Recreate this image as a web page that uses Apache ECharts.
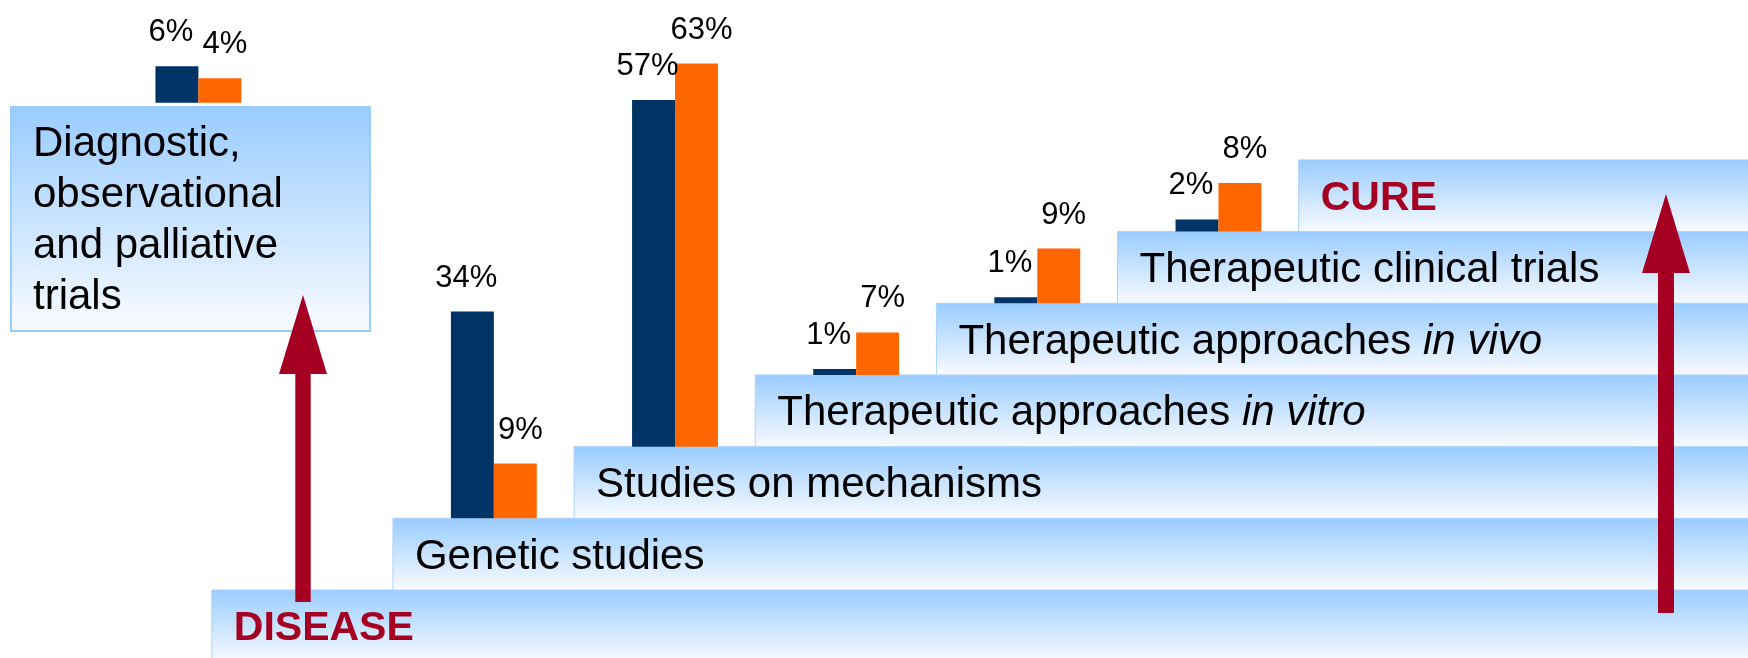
<!DOCTYPE html>
<html>
<head>
<meta charset="utf-8">
<style>
    html, body { margin: 0; padding: 0; background: #ffffff; }
    #stairs { width: 1748px; height: 658px; }
</style>
<script src="https://cdn.jsdelivr.net/npm/echarts@6/dist/echarts.min.js"></script>
</head>
<body>
<div id="stairs"></div>
<script>
// groups of bars (first one sits on the box at the left, the others on the steps)
var categories = ['Diagnostic, observational and palliative trials', 'Genetic studies', 'Studies on mechanisms',
    'Therapeutic approaches in vitro', 'Therapeutic approaches in vivo', 'Therapeutic clinical trials'];
var navyValues = [6, 34, 57, 1, 1, 2];
var orangeValues = [4, 9, 63, 7, 9, 8];

// steps of the staircase, bottom to top
var stepTitles = ['DISEASE', 'Genetic studies', 'Studies on mechanisms', 'Therapeutic approaches',
    'Therapeutic approaches', 'Therapeutic clinical trials', 'CURE'];
var stepItalic = ['', '', '', 'in vitro', 'in vivo', '', ''];
var boxLines = ['Diagnostic,', 'observational', 'and palliative', 'trials'];

// layout: x axis counts steps, y axis counts percent
var STEP = 11.79;
var DIAG_BASE = 80.15;
var DIAG_X = -0.074;
var GROUP_OFF = 0.557;
var BAR_W = 0.237;
var X_MIN = -1.1692, X_MAX = 8.4802;
var Y_MIN = -11.18, Y_MAX = 97.04;
var FONT = "'Liberation Sans', Arial, sans-serif";
var RED = '#a50021';

var chart = echarts.init(document.getElementById('stairs'));

function groupPos(i) {
    if (i === 0) return [DIAG_X, DIAG_BASE];
    return [i + GROUP_OFF, i * STEP];
}

function bandFill() {
    return new echarts.graphic.LinearGradient(0, 0, 0, 1, [
        { offset: 0, color: '#99ccff' },
        { offset: 1, color: '#f9fbff' }
    ]);
}

function renderStep(params, api) {
    var k = api.value(0);
    var top = api.coord([k, k * STEP]);
    var bottom = api.coord([k, (k - 1) * STEP]);
    var name = stepTitles[k];
    var italic = stepItalic[k];
    var edge = (k === 0 || k === stepTitles.length - 1);
    var text = '{n|' + name + '}' + (italic ? '{i| ' + italic + '}' : '');
    return {
        type: 'group',
        children: [{
            type: 'rect',
            shape: { x: top[0], y: top[1], width: api.getWidth() - top[0] + 2, height: bottom[1] - top[1] },
            style: { fill: bandFill(), stroke: '#a9d3fb', lineWidth: 1 }
        }, {
            type: 'text',
            x: top[0] + 22,
            y: (top[1] + bottom[1]) / 2 + 3,
            style: {
                text: text,
                verticalAlign: 'middle',
                align: 'left',
                rich: {
                    n: {
                        fontSize: edge ? 41 : 42,
                        fontWeight: edge ? 'bold' : 'normal',
                        fontFamily: FONT,
                        fill: edge ? RED : '#000000'
                    },
                    i: { fontSize: 42, fontStyle: 'italic', fontFamily: FONT, fill: '#000000' }
                }
            }
        }]
    };
}

function barRenderer(side, color, labelOffset) {
    return function (params, api) {
        var i = api.value(0);
        var v = api.value(1);
        var pos = groupPos(i);
        var x0 = side < 0 ? pos[0] - BAR_W : pos[0];
        var x1 = side < 0 ? pos[0] : pos[0] + BAR_W;
        var p0 = api.coord([x0, pos[1] + v]);
        var p1 = api.coord([x1, pos[1]]);
        return {
            type: 'rect',
            shape: { x: p0[0], y: p0[1], width: p1[0] - p0[0], height: p1[1] - p0[1] },
            style: { fill: color },
            textContent: {
                style: { text: v + '%', fontSize: 31, fontFamily: FONT, fill: '#000000' }
            },
            textConfig: { position: 'top', distance: 18, offset: labelOffset }
        };
    };
}

function arrow(cx, tip, headBase, bottom, headHalf, shaftHalf) {
    return {
        type: 'polygon',
        z: 100,
        shape: {
            points: [[cx, tip], [cx + headHalf, headBase], [cx + shaftHalf, headBase], [cx + shaftHalf, bottom],
                [cx - shaftHalf, bottom], [cx - shaftHalf, headBase], [cx - headHalf, headBase]]
        },
        style: { fill: RED }
    };
}

var option = {
    backgroundColor: '#ffffff',
    animation: false,
    grid: { left: 0, right: 0, top: 0, bottom: 0 },
    xAxis: { type: 'value', min: X_MIN, max: X_MAX, show: false },
    yAxis: { type: 'value', min: Y_MIN, max: Y_MAX, show: false },
    graphic: [{
        type: 'rect',
        z: 1,
        shape: { x: 11, y: 107, width: 359, height: 224 },
        style: { fill: bandFill(), stroke: '#99ccff', lineWidth: 2 }
    }, {
        type: 'text',
        z: 2,
        x: 33,
        y: 221,
        style: {
            text: boxLines.join('\n'),
            fontSize: 42,
            lineHeight: 51,
            fontFamily: FONT,
            fill: '#000000',
            verticalAlign: 'middle',
            align: 'left'
        }
    },
    arrow(303, 295, 374, 602, 24, 7.7),
    arrow(1666, 194, 273, 613, 24, 8)
    ],
    series: [{
        type: 'custom',
        name: 'steps',
        clip: false,
        silent: true,
        renderItem: renderStep,
        data: stepTitles.map(function (t, k) { return [k, 0]; })
    }, {
        type: 'custom',
        name: 'navy',
        clip: false,
        renderItem: barRenderer(-1, '#003366', [-6, 0]),
        data: navyValues.map(function (v, i) { return [i, v]; })
    }, {
        type: 'custom',
        name: 'orange',
        clip: false,
        renderItem: barRenderer(1, '#ff6600', [5, 0]),
        data: orangeValues.map(function (v, i) { return [i, v]; })
    }]
};
chart.setOption(option);
</script>
</body>
</html>
